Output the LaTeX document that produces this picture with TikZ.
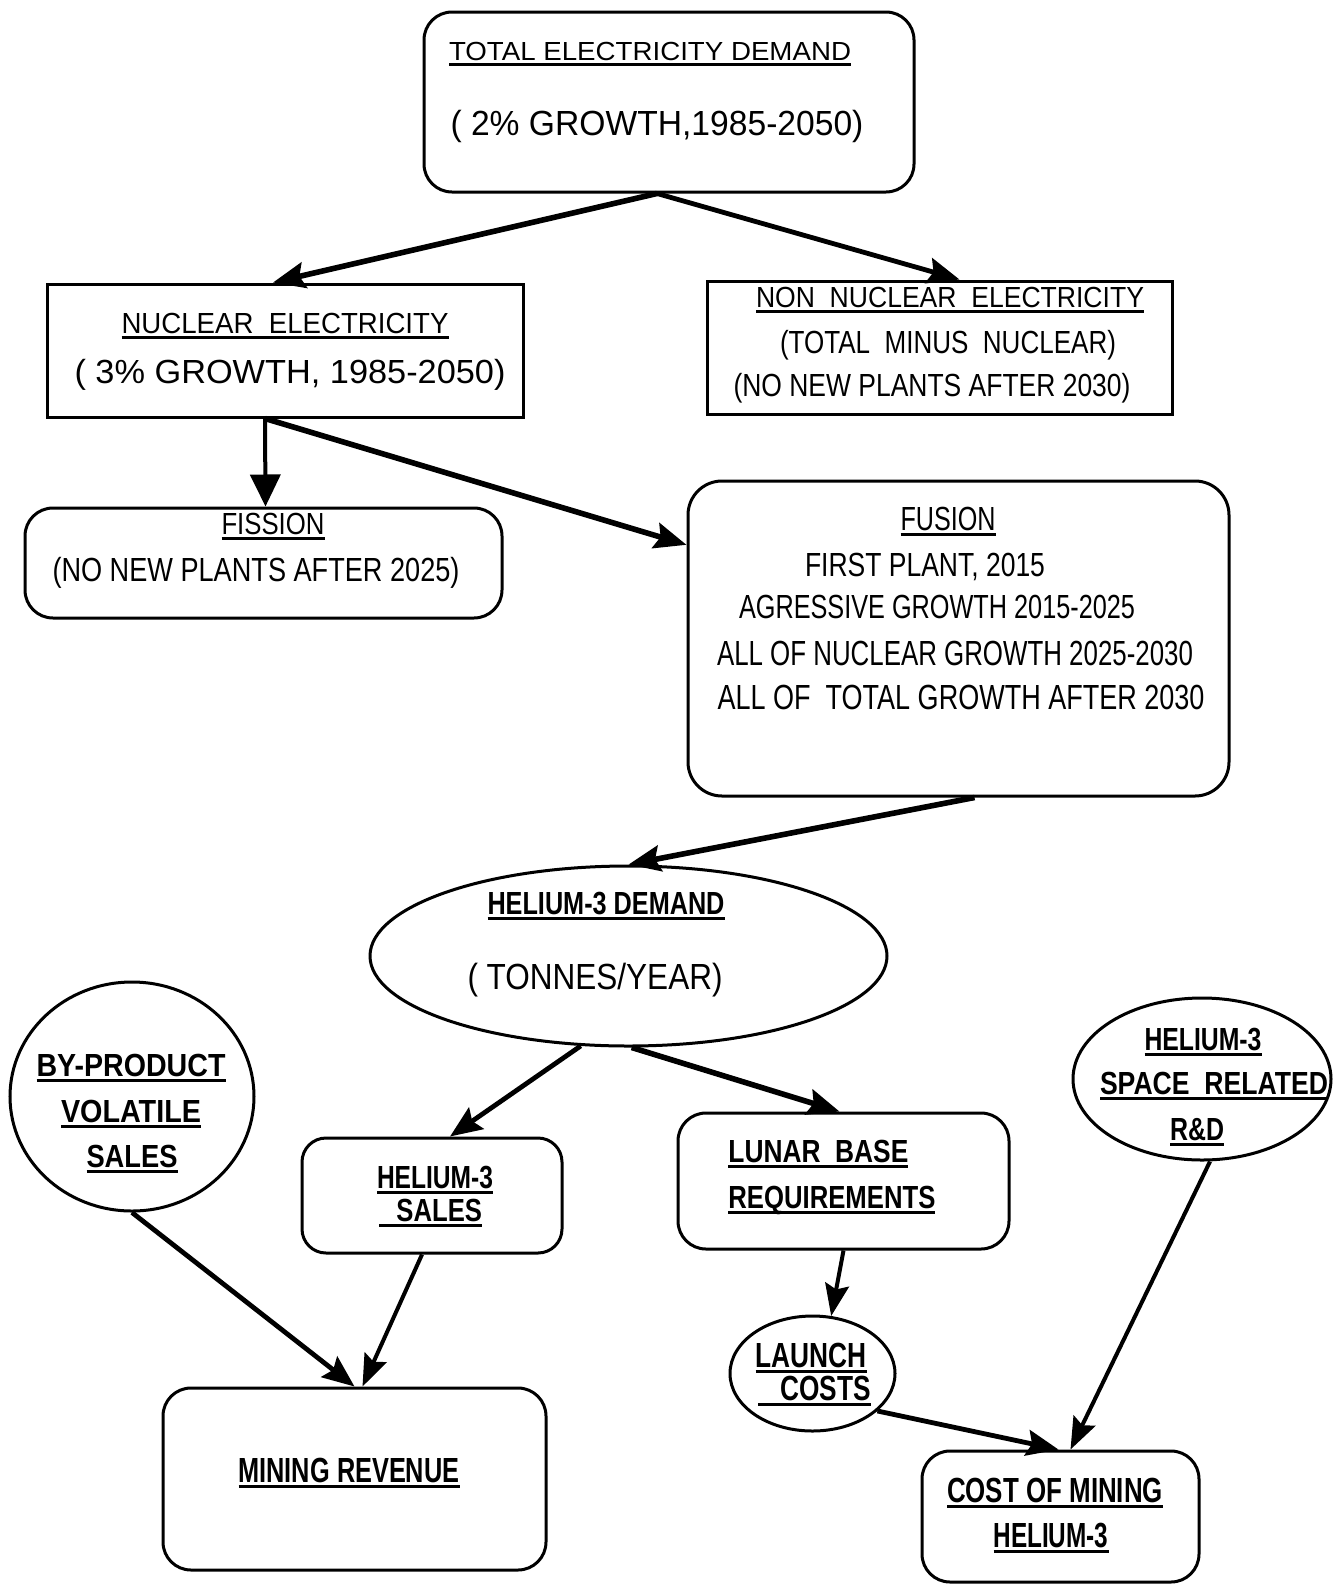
\documentclass[tikz,border=0pt]{standalone}
\usepackage{fontspec}
\setmainfont{Liberation Sans}
\usepackage{graphicx}
\usetikzlibrary{shapes.geometric,arrows.meta,fit}
\newsavebox\tbox
\newlength\twd
\newlength\tcap
\newcommand\fitbox[3]{%
  \sbox\tbox{#3}%
  \setlength\twd{\wd\tbox}%
  \setlength\tcap{\fontcharht\font`H}%
  \pgfmathsetmacro\fsx{(#1*0.5pt)/\twd}%
  \pgfmathsetmacro\fsy{(#2*0.5pt)/\tcap}%
  \scalebox{\fsx}[\fsy]{\usebox\tbox}}
\newcommand\ufitbox[3]{\fitbox{#1}{#2}{#3}\llap{\rule[-2.8pt]{\dimexpr#1pt/2\relax}{1.3pt}}}
\tikzset{
  box/.style={draw, line width=1.5pt, inner sep=0pt},
  rbox/.style={box, rounded corners=14pt},
  ell/.style={draw, ellipse, line width=1.5pt, inner sep=0pt},
  txt/.style={inner sep=0pt, anchor=base},
  btxt/.style={txt, font=\bfseries},
  con/.style={line width=2.8pt, -{Stealth[length=16pt,width=13pt,inset=2.5pt]}},
  lcon/.style={line width=2pt, -{Stealth[length=16pt,width=12pt,inset=2.5pt]}},
}
\begin{document}
\begin{tikzpicture}[x=0.5pt,y=-0.5pt]
\useasboundingbox (0,0) rectangle (1333,1585);
% shapes
\node[rbox, fit={(424,12) (914,192)}] (total) {};
\node[box, fit={(47,284) (523,417)}] (nuc) {};
\node[box, fit={(707,281) (1172,414)}] (nonnuc) {};
\node[rbox, fit={(25,508) (502,618)}] (fission) {};
\node[rbox, rounded corners=17pt, fit={(688,481) (1229,796)}] (fusion) {};
\node[ell, minimum width=258.5pt, minimum height=90pt] (hedem) at (628.5,956) {};
\node[ell, minimum width=122pt, minimum height=114.5pt] (byprod) at (132,1096.5) {};
\node[rbox, rounded corners=12pt, fit={(302,1138) (562,1253)}] (hesales) {};
\node[rbox, fit={(678,1113) (1009,1249)}] (lunar) {};
\node[ell, minimum width=129pt, minimum height=81pt] (rd) at (1202,1079) {};
\node[ell, minimum width=82.5pt, minimum height=57.5pt] (launch) at (812.5,1373.5) {};
\node[rbox, fit={(163,1388) (546,1570)}] (minrev) {};
\node[rbox, fit={(922,1451) (1199,1582)}] (cost) {};
% texts
\node[txt] (t1) at (650,60) {\ufitbox{402}{18}{TOTAL ELECTRICITY DEMAND}};
\node[txt] (t2) at (657,135) {\fitbox{413}{24}{( 2\% GROWTH,1985-2050)}};
\node[txt] (t3) at (285,333) {\ufitbox{327}{20}{NUCLEAR\ \ ELECTRICITY}};
\node[txt] (t4) at (290,383) {\fitbox{431}{23}{( 3\% GROWTH, 1985-2050)}};
\node[txt] (t5) at (950,307) {\ufitbox{388}{20}{NON\ \ NUCLEAR\ \ ELECTRICITY}};
\node[txt] (t6) at (948,353) {\fitbox{336}{22}{(TOTAL\ \ MINUS\ \ NUCLEAR)}};
\node[txt] (t7) at (932,396) {\fitbox{397}{22}{(NO NEW PLANTS AFTER 2030)}};
\node[txt] (t8) at (273,534) {\ufitbox{103}{21}{FISSION}};
\node[txt] (t9) at (256,581) {\fitbox{407}{23}{(NO NEW PLANTS AFTER 2025)}};
\node[txt] (t10) at (948,530) {\ufitbox{95}{23}{FUSION}};
\node[txt] (t11) at (925,576) {\fitbox{240}{23}{FIRST PLANT, 2015}};
\node[txt] (t12) at (937,618) {\fitbox{396}{23}{AGRESSIVE GROWTH 2015-2025}};
\node[txt] (t13) at (955,665) {\fitbox{476}{24}{ALL OF NUCLEAR GROWTH 2025-2030}};
\node[txt] (t14) at (961,709) {\fitbox{487}{24}{ALL OF\ \ TOTAL GROWTH AFTER 2030}};
\node[btxt] (t15) at (606,914) {\ufitbox{237}{22}{HELIUM-3 DEMAND}};
\node[txt] (t16) at (595,989) {\fitbox{255}{25}{( TONNES/YEAR)}};
\node[btxt] (t17) at (131,1076) {\ufitbox{189}{22}{BY-PRODUCT}};
\node[btxt] (t18) at (131,1122) {\ufitbox{140}{22}{VOLATILE}};
\node[btxt] (t19) at (132,1167) {\ufitbox{91}{22}{SALES}};
\node[btxt] (t20) at (435,1188) {\ufitbox{116}{22}{HELIUM-3}};
\node[btxt] (t21) at (430.5,1221) {\ufitbox{103}{22}{\hspace{0.68em}SALES}};
\node[btxt, anchor=base west] (t22) at (728,1162) {\ufitbox{180}{22}{LUNAR\ \ BASE}};
\node[btxt, anchor=base west] (t23) at (728,1208) {\ufitbox{207}{22}{REQUIREMENTS}};
\node[btxt] (t24) at (1203,1050) {\ufitbox{117}{22}{HELIUM-3}};
\node[btxt] (t25) at (1214,1094) {\ufitbox{228}{22}{SPACE\ \ RELATED}};
\node[btxt] (t26) at (1197,1140) {\ufitbox{54}{22}{R\&D}};
\node[btxt] (t27) at (811,1367) {\ufitbox{111}{24}{LAUNCH}};
\node[btxt] (t28) at (814.5,1400) {\ufitbox{113}{24}{\hspace{0.86em}COSTS}};
\node[btxt] (t29) at (349,1482) {\ufitbox{221}{24}{MINING REVENUE}};
\node[btxt] (t30) at (1055,1502) {\ufitbox{216}{24}{COST OF MINING}};
\node[btxt] (t31) at (1051,1547) {\ufitbox{115}{24}{HELIUM-3}};
% connectors
\draw[con] ([xshift=-6pt]total.south) -- ([xshift=-6pt]nuc.north);
\draw[con, line width=2.4pt] ([xshift=-6pt]total.south) -- ([xshift=10pt]nonnuc.north);
\draw[line width=2pt, -{Triangle[length=16pt,width=15pt]}] ([xshift=-10pt]nuc.south) -- ([xshift=1pt]fission.north);
\draw[con] ([xshift=-10pt]nuc.south) -- (fusion.161.7);
\draw[con] ([xshift=8pt]fusion.south) -- (hedem.north);
\draw[con, line width=2.4pt] (hedem.242) -- ([xshift=9pt]hesales.north);
\draw[con] (hedem.272) -- ([xshift=-2pt]lunar.north);
\draw[con, line width=2.4pt] (byprod.south) -- (minrev.north);
\draw[lcon] ([xshift=-5pt]hesales.south) -- ([xshift=4pt]minrev.north);
\draw[lcon] (lunar.south) -- (launch.72);
\draw[con, line width=2.4pt] (launch.330) -- ([xshift=-1pt]cost.north);
\draw[lcon] ([xshift=4pt]rd.south) -- ([xshift=5pt]cost.north);
\end{tikzpicture}
\end{document}
